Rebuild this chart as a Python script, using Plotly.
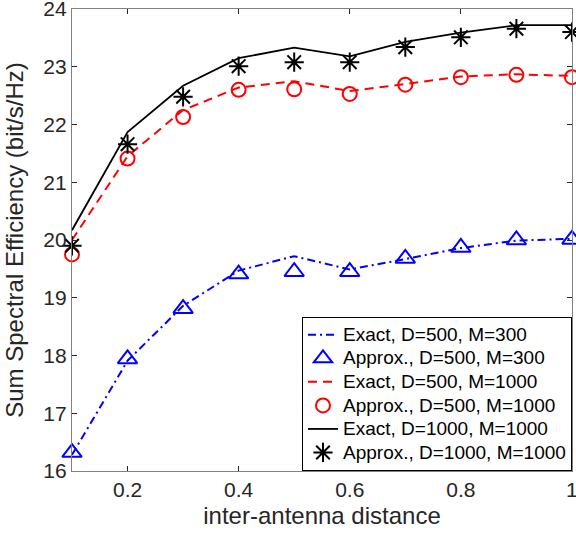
import plotly.graph_objects as go

x = [0.1, 0.2, 0.3, 0.4, 0.5, 0.6, 0.7, 0.8, 0.9, 1.0]
exact_500_300 = [16.28, 17.91, 18.86, 19.47, 19.72, 19.49, 19.67, 19.86, 19.99, 20.02]
approx_500_300 = [16.32, 17.94, 18.81, 19.41, 19.45, 19.45, 19.68, 19.87, 20.00, 20.01]
exact_500_1000 = [20.00, 21.45, 22.25, 22.64, 22.75, 22.58, 22.70, 22.83, 22.87, 22.84]
approx_500_1000 = [19.75, 21.41, 22.13, 22.60, 22.61, 22.53, 22.69, 22.82, 22.86, 22.82]
exact_1000_1000 = [20.17, 21.87, 22.67, 23.15, 23.33, 23.18, 23.43, 23.59, 23.72, 23.72]
approx_1000_1000 = [19.90, 21.66, 22.48, 23.01, 23.08, 23.08, 23.34, 23.51, 23.66, 23.60]
series_names = ["Exact, D=500, M=300", "Approx., D=500, M=300",
                "Exact, D=500, M=1000", "Approx., D=500, M=1000",
                "Exact, D=1000, M=1000", "Approx., D=1000, M=1000"]
x_ticks = [0.2, 0.4, 0.6, 0.8, 1.0]
x_tick_labels = ["0.2", "0.4", "0.6", "0.8", "1"]
y_ticks = [16, 17, 18, 19, 20, 21, 22, 23, 24]

BLUE = "#0000ff"
RED = "#ff0000"
BLACK = "#000000"
AX = "#262626"
AXLINE = "#808080"
FONT = "Liberation Sans, Arial, sans-serif"


def lg(name):
    return '<span style="font-size:19px">' + name + '</span>'


fig = go.Figure()
fig.add_trace(go.Scatter(x=x, y=exact_500_300, mode="lines", name=lg(series_names[0]),
                         line=dict(color=BLUE, width=2, dash="8px,4px,2px,4px"), cliponaxis=False))
fig.add_trace(go.Scatter(x=x, y=approx_500_300, mode="markers", name=lg(series_names[1]),
                         marker=dict(symbol="triangle-up-open", size=17, color=BLUE,
                                     line=dict(width=2, color=BLUE)), cliponaxis=False))
fig.add_trace(go.Scatter(x=x, y=exact_500_1000, mode="lines", name=lg(series_names[2]),
                         line=dict(color=RED, width=2, dash="9px,6px"), cliponaxis=False))
fig.add_trace(go.Scatter(x=x, y=approx_500_1000, mode="markers", name=lg(series_names[3]),
                         marker=dict(symbol="circle-open", size=14, color=RED,
                                     line=dict(width=2, color=RED)), cliponaxis=False))
fig.add_trace(go.Scatter(x=x, y=exact_1000_1000, mode="lines", name=lg(series_names[4]),
                         line=dict(color=BLACK, width=1.8), cliponaxis=False))
fig.add_trace(go.Scatter(x=x, y=approx_1000_1000, mode="markers", name=lg(series_names[5]),
                         marker=dict(symbol="asterisk-open", size=16, color=BLACK,
                                     line=dict(width=2, color=BLACK)), cliponaxis=False))

fig.update_layout(
    width=576, height=535,
    margin=dict(l=72, r=4, t=9, b=64),
    paper_bgcolor="white", plot_bgcolor="white",
    font=dict(family=FONT, color=AX, size=21),
    showlegend=True,
    legend=dict(x=1, y=0, xanchor="right", yanchor="bottom",
                bgcolor="white", bordercolor=BLACK, borderwidth=1,
                font=dict(family=FONT, size=15.8, color=BLACK),
                itemwidth=30, tracegroupgap=0),
    xaxis=dict(range=[0.1, 1.0001], tickvals=x_ticks, ticktext=x_tick_labels,
               ticks="inside", ticklen=5, tickcolor=AX, showline=True, linecolor=AXLINE,
               linewidth=1.3, mirror="ticks", showgrid=False, zeroline=False,
               ticklabeloverflow="allow", automargin=False,
               tickfont=dict(size=21, color=AX),
               title=dict(text="inter-antenna distance", font=dict(size=24, color=AX), standoff=6)),
    yaxis=dict(range=[16, 24.0001], tickvals=y_ticks,
               ticks="inside", ticklen=5, tickcolor=AX, showline=True, linecolor=AXLINE,
               linewidth=1.3, mirror="ticks", showgrid=False, zeroline=False,
               ticklabeloverflow="allow", automargin=False,
               tickfont=dict(size=21, color=AX),
               title=dict(text="Sum Spectral Efficiency (bit/s/Hz)", font=dict(size=24, color=AX), standoff=12)),
)

fig.write_html("out.html", config={"displayModeBar": False},
               post_script="document.body.style.margin='0';document.body.style.overflow='hidden';")
